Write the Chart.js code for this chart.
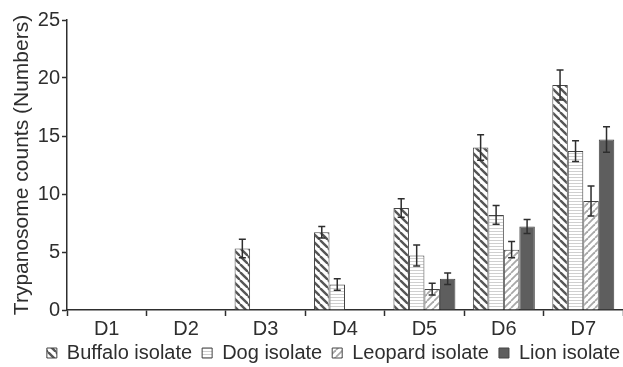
<!DOCTYPE html>
<html>
<head>
<meta charset="utf-8">
<script src="https://cdn.jsdelivr.net/npm/chart.js@4"></script>
<style>
  html, body { margin: 0; padding: 0; background: #fff; }
  #wrap { width: 623px; height: 367px; }
</style>
</head>
<body>
<div id="wrap"><canvas id="chart"></canvas></div>
<script>
// Trypanosome counts per day, by isolate
const days = ['D1', 'D2', 'D3', 'D4', 'D5', 'D6', 'D7'];
const seriesNames = ['Buffalo isolate', 'Dog isolate', 'Leopard isolate', 'Lion isolate'];

const buffalo = [0, 0, 5.3, 6.7, 8.8, 14.0, 19.4];
const dog     = [0, 0, 0, 2.2, 4.7, 8.2, 13.7];
const leopard = [0, 0, 0, 0, 1.8, 5.2, 9.4];
const lion    = [0, 0, 0, 0, 2.7, 7.2, 14.7];

const buffaloErr = [0, 0, 0.8, 0.5, 0.8, 1.1, 1.3];
const dogErr     = [0, 0, 0, 0.5, 0.9, 0.8, 0.9];
const leopardErr = [0, 0, 0, 0, 0.5, 0.7, 1.3];
const lionErr    = [0, 0, 0, 0, 0.5, 0.6, 1.1];

const yTicks = [0, 5, 10, 15, 20, 25];

const ink = '#2e2e2e';
const font = "'Liberation Sans', Arial, sans-serif";

// Pattern helpers
function makePattern(size, draw) {
    const c = document.createElement('canvas');
    c.width = size;
    c.height = size;
    const g = c.getContext('2d');
    g.fillStyle = '#fff';
    g.fillRect(0, 0, size, size);
    draw(g, size);
    return g.createPattern(c, 'repeat');
}

const ctx = document.getElementById('chart').getContext('2d');

const buffaloFill = makePattern(8, (g, s) => {
    g.strokeStyle = '#555';
    g.lineWidth = 2.4;
    for (let k = -1; k <= 1; k++) {
        g.beginPath();
        g.moveTo(k * s, 0);
        g.lineTo(k * s + s, s);
        g.stroke();
    }
});

const dogFill = makePattern(3, (g, s) => {
    g.fillStyle = '#cfcfcf';
    g.fillRect(0, 0, s, 1);
});

const leopardFill = makePattern(7, (g, s) => {
    g.strokeStyle = '#a8a8a8';
    g.lineWidth = 1.8;
    for (let k = -1; k <= 1; k++) {
        g.beginPath();
        g.moveTo(k * s, s);
        g.lineTo(k * s + s, 0);
        g.stroke();
    }
});

const lionFill = '#5e5e5e';

// Keep the legend short vertically while the items stay spread out
const legendHeight = {
    id: 'legendHeight',
    beforeLayout(chart) {
        const lg = chart.legend;
        if (!lg || lg._fixedFit) return;
        const fit = lg.fit;
        lg.fit = function () {
            fit.call(this);
            this.height = 30;
        };
        lg._fixedFit = true;
    },
    afterLayout(chart) {
        // nudge legend up and to the right, as in the figure
        const lg = chart.legend;
        if (!lg) return;
        lg.top -= 3;
        lg.left += 22;
        lg.right += 22;
    }
};

const errorBars = {
    id: 'errorBars',
    afterDatasetsDraw(chart) {
        const c = chart.ctx;
        const yScale = chart.scales.y;
        const errs = [buffaloErr, dogErr, leopardErr, lionErr];
        c.save();
        c.strokeStyle = ink;
        c.lineWidth = 1.5;
        chart.data.datasets.forEach((ds, i) => {
            const meta = chart.getDatasetMeta(i);
            meta.data.forEach((bar, j) => {
                const v = ds.data[j];
                const e = errs[i][j];
                if (!v || !e) return;
                const top = yScale.getPixelForValue(v + e);
                const bot = yScale.getPixelForValue(v - e);
                c.beginPath();
                c.moveTo(bar.x, top);
                c.lineTo(bar.x, bot);
                c.moveTo(bar.x - 3.5, top);
                c.lineTo(bar.x + 3.5, top);
                c.moveTo(bar.x - 3.5, bot);
                c.lineTo(bar.x + 3.5, bot);
                c.stroke();
            });
        });
        c.restore();
    }
};

const common = {
    borderColor: '#444',
    borderWidth: 1,
    borderSkipped: 'bottom',
    categoryPercentage: 0.78,
    barPercentage: 1.0
};

new Chart(ctx, {
    type: 'bar',
    data: {
        labels: days,
        datasets: [
            { label: seriesNames[0], data: buffalo, backgroundColor: buffaloFill, ...common },
            { label: seriesNames[1], data: dog, backgroundColor: dogFill, ...common },
            { label: seriesNames[2], data: leopard, backgroundColor: leopardFill, ...common },
            { label: seriesNames[3], data: lion, backgroundColor: lionFill, ...common }
        ]
    },
    options: {
        responsive: true,
        maintainAspectRatio: false,
        animation: false,
        layout: { padding: { top: 20, right: 0, left: 0, bottom: 1 } },
        plugins: {
            legend: {
                position: 'bottom',
                labels: {
                    color: ink,
                    font: { family: font, size: 20 },
                    boxWidth: 10,
                    boxHeight: 10,
                    padding: 10
                }
            },
            tooltip: { enabled: false }
        },
        scales: {
            x: {
                offset: true,
                grid: {
                    offset: true,
                    drawOnChartArea: false,
                    color: ink,
                    tickLength: 6,
                    tickWidth: 1.5
                },
                border: { color: ink, width: 1.5 },
                ticks: {
                    color: ink,
                    padding: 1,
                    font: { family: font, size: 20 }
                },
                afterFit: (scale) => { scale.height = 26; }
            },
            y: {
                min: 0,
                max: 25,
                afterBuildTicks: (scale) => {
                    scale.ticks = yTicks.map(v => ({ value: v }));
                },
                grid: {
                    drawOnChartArea: false,
                    color: ink,
                    tickLength: 5,
                    tickWidth: 1.5
                },
                border: { color: ink, width: 1.5 },
                ticks: {
                    color: ink,
                    padding: 2,
                    font: { family: font, size: 20 }
                },
                title: {
                    display: true,
                    text: 'Trypanosome counts (Numbers)',
                    color: ink,
                    padding: { top: 10, bottom: 0 },
                    font: { family: font, size: 21 }
                },
                afterFit: (scale) => { scale.width = 67; }
            }
        }
    },
    plugins: [legendHeight, errorBars]
});
</script>
</body>
</html>
